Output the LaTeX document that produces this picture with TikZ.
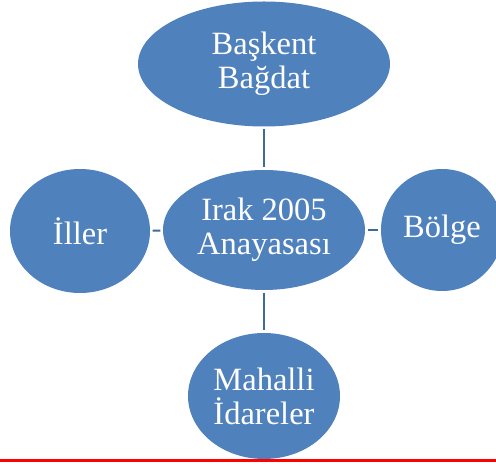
\documentclass[tikz,border=0pt]{standalone}
\usepackage{fontspec}
\setmainfont{Liberation Serif}
\usetikzlibrary{shapes.geometric}
\definecolor{boxblue}{HTML}{4F81BD}
\definecolor{linkblue}{HTML}{3F6A98}
\definecolor{redline}{HTML}{FF0000}
\begin{document}
\begin{tikzpicture}[x=1pt,y=1pt,
  bubble/.style={ellipse,fill=boxblue,draw=none,text=white,inner sep=0pt,
    align=center,font=\fontsize{32.5}{34}\selectfont},
  link/.style={draw=linkblue,line width=2pt,shorten <=2.5pt,shorten >=2.5pt}]
\useasboundingbox (0,0) rectangle (496,466);
\begin{scope}
\clip (0,0) rectangle (496,466);
\node[bubble,minimum width=252pt,minimum height=125pt] (top) at (264,402) {Başkent\\Bağdat};
\node[bubble,minimum width=202pt,minimum height=120pt] (mid) at (264,236) {Irak 2005\\Anayasası};
\node[bubble,minimum width=140pt,minimum height=124pt] (left) at (80,235) {İller};
\node[bubble,minimum width=122pt,minimum height=122pt] (right) at (442,236) {Bölge};
\node[bubble,minimum width=152pt,minimum height=126pt] (bot) at (264,70) {Mahalli\\İdareler};
\draw[link] (top) -- (mid);
\draw[link] (mid) -- (bot);
\draw[link] (left) -- (mid);
\draw[link] (mid) -- (right);
\coordinate (rl) at (0,5.5);
\coordinate (rr) at (496,5.5);
\draw[draw=redline,line width=2.4pt] (rl) -- (rr);
\end{scope}
\end{tikzpicture}
\end{document}
